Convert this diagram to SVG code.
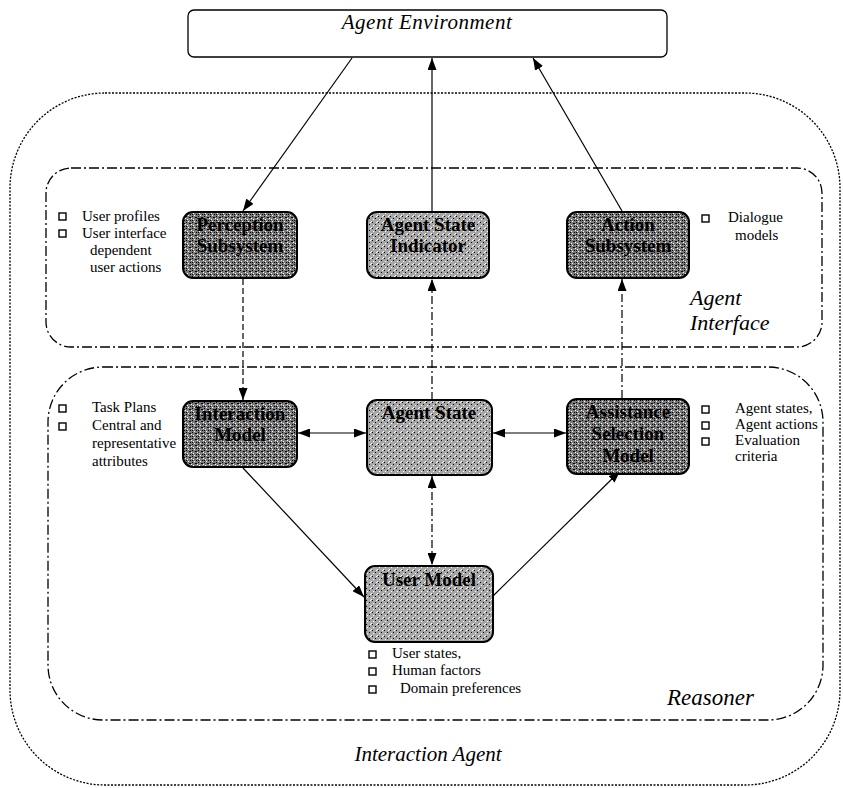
<svg xmlns="http://www.w3.org/2000/svg" width="843" height="788" viewBox="0 0 843 788">
<style>
.bg{fill:#ffffff}
.outer{fill:none;stroke:#000;stroke-width:1.3;stroke-dasharray:2,1.5}
.region{fill:none;stroke:#000;stroke-width:1.3;stroke-dasharray:10,3,2,3}
.env{fill:#fff;stroke:#000;stroke-width:1.3}
.dark{fill:url(#texDark);stroke:#000;stroke-width:2}
.light{fill:url(#texLight);stroke:#000;stroke-width:2}
.nt{font-family:"Liberation Serif","Times New Roman",serif;font-weight:bold;font-size:19px;fill:#000;text-anchor:middle}
.note{font-family:"Liberation Serif","Times New Roman",serif;font-size:15px;fill:#000}
.lab{font-family:"Liberation Serif","Times New Roman",serif;font-style:italic;fill:#000}
.bul{fill:none;stroke:#000;stroke-width:1.4}
.c{fill:none;stroke:#000;stroke-width:1.2}
.dash{stroke-dasharray:6,3}
.dd{stroke-dasharray:8,3,2,3}
</style>
<defs>
<pattern id="texDark" width="6" height="6" patternUnits="userSpaceOnUse">
<rect width="6" height="6" fill="#7a7a7a"/>
<rect x="0" y="0" width="1" height="1" fill="#000"/>
<rect x="3" y="1" width="2" height="1" fill="#000"/>
<rect x="1" y="3" width="1" height="1" fill="#fff"/>
<rect x="4" y="4" width="1" height="1" fill="#000"/>
<rect x="2" y="5" width="1" height="1" fill="#fff"/>
<rect x="5" y="2" width="1" height="1" fill="#fff"/>
<rect x="0" y="4" width="1" height="1" fill="#000"/>
</pattern>
<pattern id="texLight" width="6" height="6" patternUnits="userSpaceOnUse">
<rect width="6" height="6" fill="#a6a6a6"/>
<rect x="0" y="0" width="1" height="1" fill="#000"/>
<rect x="3" y="2" width="1" height="1" fill="#000"/>
<rect x="1" y="3" width="1" height="1" fill="#fff"/>
<rect x="5" y="5" width="1" height="1" fill="#fff"/>
<rect x="4" y="0" width="1" height="1" fill="#fff"/>
</pattern>
<marker id="arr" viewBox="0 0 12 9" refX="12" refY="4.5" markerWidth="12" markerHeight="9" markerUnits="userSpaceOnUse" orient="auto-start-reverse">
<path d="M0,0 L12,4.5 L0,9 z" fill="#000"/>
</marker>
</defs>
<rect class="bg" x="0" y="0" width="843" height="788"/>

<g id="interaction-agent">
<rect class="outer" x="10" y="93" width="830" height="692" rx="95" ry="95"/>
<text class="lab" x="428" y="761" font-size="21" text-anchor="middle">Interaction Agent</text>
</g>

<g id="agent-interface">
<rect class="region" x="46" y="168" width="776" height="179" rx="25" ry="25"/>
<text class="lab" x="690" y="305" font-size="22">Agent</text>
<text class="lab" x="690" y="330" font-size="22">Interface</text>
</g>

<g id="reasoner">
<rect class="region" x="48" y="367" width="775" height="353" rx="55" ry="55"/>
<text class="lab" x="667" y="705" font-size="23">Reasoner</text>
</g>

<g id="agent-environment">
<rect class="env" x="188" y="10" width="479" height="47" rx="6" ry="6"/>
<text class="lab" x="427" y="29" font-size="21" text-anchor="middle" letter-spacing="0.5">Agent Environment</text>
</g>

<g id="connectors">
<line class="c" x1="352" y1="58" x2="243" y2="211" marker-end="url(#arr)"/>
<line class="c" x1="432" y1="211" x2="432" y2="58" marker-end="url(#arr)"/>
<line class="c" x1="622" y1="211" x2="533" y2="58" marker-end="url(#arr)"/>
<line class="c dash" x1="243" y1="279" x2="243" y2="400" marker-end="url(#arr)"/>
<line class="c dd" x1="432" y1="400" x2="432" y2="279" marker-end="url(#arr)"/>
<line class="c dd" x1="622" y1="398" x2="622" y2="279" marker-end="url(#arr)"/>
<line class="c" x1="298" y1="433" x2="366" y2="433" marker-start="url(#arr)" marker-end="url(#arr)"/>
<line class="c" x1="493" y1="433" x2="566" y2="433" marker-start="url(#arr)" marker-end="url(#arr)"/>
<line class="c" x1="243" y1="468" x2="364" y2="597" marker-end="url(#arr)"/>
<line class="c" x1="493" y1="596" x2="620" y2="471" marker-end="url(#arr)"/>
<line class="c dd" x1="432" y1="476" x2="432" y2="565" marker-start="url(#arr)" marker-end="url(#arr)"/>
</g>

<g id="perception-subsystem">
<rect class="dark" x="183" y="212" width="114" height="66" rx="10" ry="10"/>
<text class="nt" x="240" y="231">Perception</text>
<text class="nt" x="240" y="252">Subsystem</text>
</g>
<g id="perception-notes">
<rect class="bul" x="59" y="213" width="7" height="7"/>
<rect class="bul" x="59" y="230" width="7" height="7"/>
<text class="note" x="82" y="221" font-size="16">User profiles</text>
<text class="note" x="82" y="238" font-size="16">User interface</text>
<text class="note" x="90" y="255" font-size="16">dependent</text>
<text class="note" x="90" y="272" font-size="16">user actions</text>
</g>

<g id="agent-state-indicator">
<rect class="light" x="367" y="212" width="122" height="66" rx="10" ry="10"/>
<text class="nt" x="428" y="231">Agent State</text>
<text class="nt" x="428" y="252">Indicator</text>
</g>

<g id="action-subsystem">
<rect class="dark" x="567" y="212" width="122" height="66" rx="10" ry="10"/>
<text class="nt" x="628" y="231">Action</text>
<text class="nt" x="628" y="252">Subsystem</text>
</g>
<g id="action-notes">
<rect class="bul" x="702" y="215" width="7" height="7"/>
<text class="note" x="728" y="222">Dialogue</text>
<text class="note" x="735" y="240">models</text>
</g>

<g id="interaction-model">
<rect class="dark" x="183" y="401" width="114" height="66" rx="10" ry="10"/>
<text class="nt" x="240" y="420">Interaction</text>
<text class="nt" x="240" y="441">Model</text>
</g>
<g id="interaction-notes">
<rect class="bul" x="59" y="405" width="7" height="7"/>
<rect class="bul" x="59" y="423" width="7" height="7"/>
<text class="note" x="92" y="412">Task Plans</text>
<text class="note" x="92" y="430">Central and</text>
<text class="note" x="92" y="448">representative</text>
<text class="note" x="92" y="466">attributes</text>
</g>

<g id="agent-state">
<rect class="light" x="367" y="400" width="125" height="75" rx="10" ry="10"/>
<text class="nt" x="429" y="419">Agent State</text>
</g>

<g id="assistance-selection-model">
<rect class="dark" x="567" y="399" width="122" height="75" rx="10" ry="10"/>
<text class="nt" x="628" y="418">Assistance</text>
<text class="nt" x="628" y="440">Selection</text>
<text class="nt" x="628" y="462">Model</text>
</g>
<g id="assistance-notes">
<rect class="bul" x="702" y="406" width="7" height="7"/>
<rect class="bul" x="702" y="422" width="7" height="7"/>
<rect class="bul" x="702" y="438" width="7" height="7"/>
<text class="note" x="735" y="413">Agent states,</text>
<text class="note" x="735" y="429">Agent actions</text>
<text class="note" x="735" y="445">Evaluation</text>
<text class="note" x="735" y="461">criteria</text>
</g>

<g id="user-model">
<rect class="light" x="365" y="566" width="128" height="76" rx="10" ry="10"/>
<text class="nt" x="429" y="586">User Model</text>
</g>
<g id="user-model-notes">
<rect class="bul" x="369" y="651" width="7" height="7"/>
<rect class="bul" x="369" y="668" width="7" height="7"/>
<rect class="bul" x="369" y="686" width="7" height="7"/>
<text class="note" x="392" y="658">User states,</text>
<text class="note" x="392" y="675">Human factors</text>
<text class="note" x="400" y="693">Domain preferences</text>
</g>
</svg>
